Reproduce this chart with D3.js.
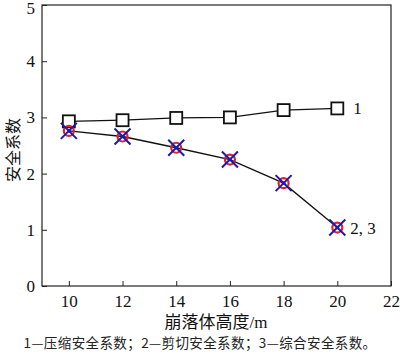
<!DOCTYPE html>
<html>
<head>
<meta charset="utf-8">
<script src="https://cdn.jsdelivr.net/npm/d3@7"></script>
<style>
  body { margin: 0; background: #fff; }
  svg { display: block; }
</style>
</head>
<body>
<div id="chart"></div>
<script>
// chart data
const heights = [10, 12, 14, 16, 18, 20];
const compressFactor = [2.93, 2.95, 2.99, 3.0, 3.13, 3.16];   // 1
const shearFactor = [2.76, 2.66, 2.46, 2.25, 1.83, 1.04];      // 2, 3 (same values)
const xTicks = [10, 12, 14, 16, 18, 20, 22];
const yTicks = [0, 1, 2, 3, 4, 5];

const width = 400, height = 354;
const serif = "'Liberation Serif', 'Times New Roman', 'Noto Sans CJK SC', serif";
const cjk = "'Noto Sans CJK SC', sans-serif";

const svg = d3.select("#chart")
    .append("svg")
    .attr("width", width)
    .attr("height", height)
    .attr("font-family", serif);

const x = d3.scaleLinear().domain([9, 22]).range([42, 391]);
const y = d3.scaleLinear().domain([0, 5]).range([286, 5]);

// frame
svg.append("rect")
    .attr("x", 42).attr("y", 5)
    .attr("width", 349).attr("height", 281)
    .attr("fill", "none")
    .attr("stroke", "#222")
    .attr("stroke-width", 1.2);

// axes
const xAxis = svg.append("g")
    .attr("transform", "translate(0,286)")
    .call(d3.axisBottom(x).tickValues(xTicks).tickFormat(d3.format("d"))
        .tickSizeInner(-5).tickSizeOuter(0).tickPadding(9));
const yAxis = svg.append("g")
    .attr("transform", "translate(42,0)")
    .call(d3.axisLeft(y).tickValues(yTicks).tickFormat(d3.format("d"))
        .tickSizeInner(-5).tickSizeOuter(0).tickPadding(7));

[xAxis, yAxis].forEach(a => {
    a.select(".domain").remove();
    a.selectAll("line").attr("stroke", "#222");
    a.selectAll("text")
        .attr("font-family", serif)
        .attr("font-size", 17)
        .attr("fill", "#111");
});
// top label sits against the edge as in the figure
yAxis.selectAll(".tick text").filter(d => d === 5).attr("dy", "0.5em");

const line = d3.line()
    .x((d, i) => x(heights[i]))
    .y(d => y(d));

// series 1: compression
svg.append("path")
    .datum(compressFactor)
    .attr("fill", "none")
    .attr("stroke", "#111")
    .attr("stroke-width", 1.3)
    .attr("d", line);

svg.append("g")
    .selectAll("rect")
    .data(compressFactor)
    .enter().append("rect")
    .attr("x", (d, i) => x(heights[i]) - 6)
    .attr("y", d => y(d) - 6)
    .attr("width", 12)
    .attr("height", 12)
    .attr("fill", "#fff")
    .attr("stroke", "#111")
    .attr("stroke-width", 1.8);

// series 2 / 3: shear and combined
svg.append("path")
    .datum(shearFactor)
    .attr("fill", "none")
    .attr("stroke", "#111")
    .attr("stroke-width", 1.3)
    .attr("d", line);

const mk = svg.append("g")
    .selectAll("g")
    .data(shearFactor)
    .enter().append("g")
    .attr("transform", (d, i) => `translate(${x(heights[i])},${y(d)})`);

mk.append("circle")
    .attr("r", 5)
    .attr("fill", "none")
    .attr("stroke", "#e0202a")
    .attr("stroke-width", 2.2);

mk.append("path")
    .attr("d", "M-8,-8L8,8M-8,8L8,-8")
    .attr("stroke", "#1a1ab0")
    .attr("stroke-width", 2);

mk.append("circle")
    .attr("r", 1.8)
    .attr("fill", "#1a1ab0");

// series labels
svg.append("text")
    .attr("x", x(20) + 16)
    .attr("y", y(compressFactor[5]) + 6)
    .attr("font-size", 17)
    .attr("fill", "#111")
    .text("1");

svg.append("text")
    .attr("x", x(20) + 13)
    .attr("y", y(shearFactor[5]) + 6)
    .attr("font-size", 17)
    .attr("fill", "#111")
    .text("2, 3");

// axis titles
svg.append("text")
    .attr("transform", "translate(19,150) rotate(-90)")
    .attr("text-anchor", "middle")
    .attr("font-family", cjk)
    .attr("font-size", 16)
    .attr("fill", "#111")
    .text("安全系数");

svg.append("text")
    .attr("x", 216)
    .attr("y", 328)
    .attr("text-anchor", "middle")
    .attr("font-size", 17)
    .attr("fill", "#111")
    .text("崩落体高度/m");

svg.append("text")
    .attr("x", 200)
    .attr("y", 348)
    .attr("text-anchor", "middle")
    .attr("font-family", cjk)
    .attr("font-size", 13.5)
    .attr("letter-spacing", 0.4)
    .attr("fill", "#222")
    .text("1—压缩安全系数；2—剪切安全系数；3—综合安全系数。");
</script>
</body>
</html>
